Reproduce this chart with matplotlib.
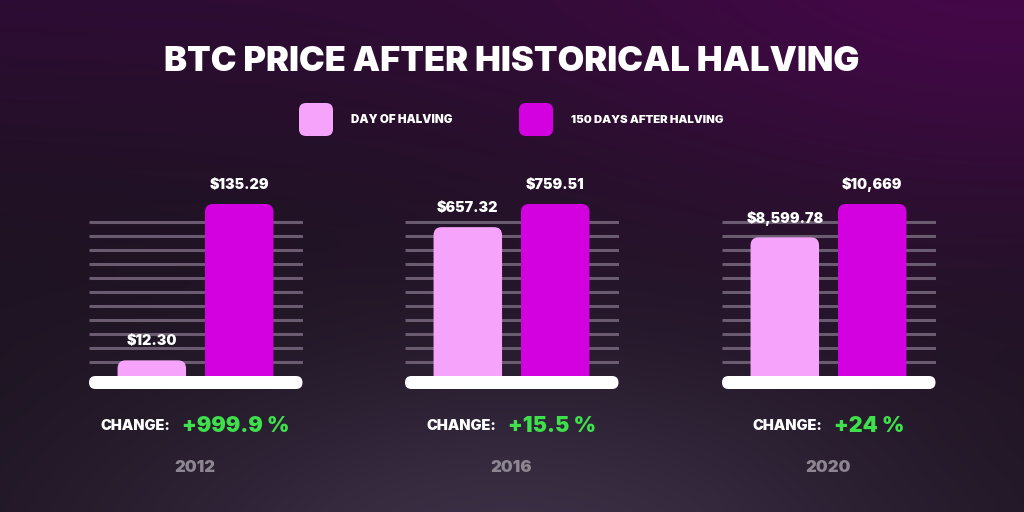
import numpy as np
import matplotlib
matplotlib.use("Agg")
import matplotlib.pyplot as plt
from matplotlib.patches import FancyBboxPatch
from matplotlib.transforms import offset_copy

# ---------------- data ----------------
years = ["2012", "2016", "2020"]
series_names = ["DAY OF HALVING", "150 DAYS AFTER HALVING"]
day_of_halving = [12.30, 657.32, 8599.78]
after_150_days = [135.29, 759.51, 10669]
value_labels_day = ["$12.30", "$657.32", "$8,599.78"]
value_labels_after = ["$135.29", "$759.51", "$10,669"]
change_labels = ["+999.9 %", "+15.5 %", "+24 %"]
title = "BTC PRICE AFTER HISTORICAL HALVING"

# ---------------- style ----------------
PINK = "#f6a4fb"
MAGENTA = "#d300e0"
GREEN = "#3ee04c"
GRID = "#6b5b70"
YEARC = "#8d8591"
FONT = "Inter"

W, H = 1024, 512
fig = plt.figure(figsize=(W / 100, H / 100), dpi=100)

# background axes in pixel coordinates
bg = fig.add_axes([0, 0, 1, 1], zorder=0)
bg.set_xlim(0, W)
bg.set_ylim(H, 0)
bg.axis("off")

yy, xx = np.mgrid[0:H, 0:W]
def glow(cx, cy, rx, ry):
    return np.exp(-(((xx - cx) / rx) ** 2 + ((yy - cy) / ry) ** 2))
base = np.array([0x1c, 0x13, 0x20], float)
img = np.ones((H, W, 3)) * base
img += glow(1024, -40, 520, 260)[..., None] * (np.array([0x44, 0x08, 0x48]) - base)
img += glow(0, -60, 600, 210)[..., None] * (np.array([0x2e, 0x0c, 0x34]) - base)
img += glow(512, 560, 420, 200)[..., None] * (np.array([0x3c, 0x30, 0x46]) - base)
img = np.clip(img, 0, 255) / 255.0
bg.imshow(img, extent=(0, W, H, 0), aspect="auto", zorder=0)

renderer = fig.canvas.get_renderer()

def fit_text(ax, x, y, s, target_w, color, ha="center", va="center", weight="black", size=20, **kw):
    t = ax.text(x, y, s, color=color, ha=ha, va=va, fontfamily=FONT, fontweight=weight,
                fontsize=size, **kw)
    w = t.get_window_extent(renderer).width
    t.set_fontsize(size * target_w / w)
    return t

# title
fit_text(bg, 511.5, 62, title, 697, "white", size=28)

# legend
for (lx, tx, col, name, tw) in [(299, 351, PINK, series_names[0], 102),
                                (519, 571, MAGENTA, series_names[1], 154)]:
    bg.add_patch(FancyBboxPatch((lx, 103), 34, 33, boxstyle="round,pad=0,rounding_size=7",
                                fc=col, ec="none", zorder=2))
    fit_text(bg, tx, 120, name, tw, "white", ha="left", size=9)

# ---------------- panels ----------------
panel_left = [89, 405, 722]
pw = 213.5
ax_top, ax_bot = 170, 376      # y = 0 sits on top edge of the white baseline
ah = ax_bot - ax_top
unit_px = 87.4          # px between bar centres
pink_off = 62.8         # px from panel left to first bar centre
bar_w = 68.5 / unit_px
top_target_px = ax_bot - 204  # pixel height of tallest bar

grid_px = np.arange(222, 363, 14)

for i in range(3):
    ax = fig.add_axes([panel_left[i] / W, 1 - ax_bot / H, pw / W, ah / H], zorder=2)
    ax.axis("off")
    ax.patch.set_alpha(0)
    vals = [day_of_halving[i], after_150_days[i]]
    ymax = max(vals) * ah / top_target_px
    ax.set_ylim(0, ymax)
    ax.set_xlim(-pink_off / unit_px, (pw - pink_off) / unit_px)
    ypp = ymax / ah  # data units per pixel

    # grid lines
    for gp in grid_px:
        f = (ax_bot - gp) / ah
        ax.plot([0, 1], [f, f], transform=ax.transAxes, color=GRID, lw=2.2,
                solid_capstyle="butt", zorder=1)

    bars = ax.bar([0, 1], vals, width=bar_w, color=[PINK, MAGENTA], zorder=2)
    aspect = ypp * unit_px
    r = 8 / unit_px
    ext = 12 * ypp  # hide rounded bottom behind the baseline
    for b in bars:
        b.set_visible(False)
        ax.add_patch(FancyBboxPatch((b.get_x(), b.get_y() - ext), b.get_width(),
                                    b.get_height() + ext,
                                    boxstyle=f"round,pad=0,rounding_size={r}",
                                    mutation_aspect=aspect, fc=b.get_facecolor(),
                                    ec="none", zorder=2, clip_on=False))
    # value labels
    for xpos, v, lab in zip([0, 1], vals, [value_labels_day[i], value_labels_after[i]]):
        t = ax.text(xpos, v, lab, ha="center", va="center", color="white",
                    fontfamily=FONT, fontweight="black", fontsize=10.3, zorder=4,
                    transform=offset_copy(ax.transData, fig=fig, x=0, y=19 * 0.72,
                                          units="points"))

    # baseline (white rounded bar)
    ax.add_patch(FancyBboxPatch((0, -13 / ah), 1, 13 / ah, transform=ax.transAxes,
                                boxstyle=f"round,pad=0,rounding_size={6.5 / pw}",
                                mutation_aspect=pw / ah, fc="white", ec="none",
                                zorder=5, clip_on=False))

    cx = panel_left[i] + pw / 2 - 0.5
    # change group
    t1 = bg.text(0, 426, "CHANGE:", color="white", ha="left", va="center",
                 fontfamily=FONT, fontweight="black", fontsize=10.5)
    t2 = bg.text(0, 426, change_labels[i], color=GREEN, ha="left", va="center",
                 fontfamily=FONT, fontweight="black", fontsize=15.5)
    w1 = t1.get_window_extent(renderer).width
    w2 = t2.get_window_extent(renderer).width
    gap = 12
    x0 = cx - (w1 + gap + w2) / 2
    t1.set_x(x0)
    t2.set_x(x0 + w1 + gap)
    # year
    bg.text(cx, 467, years[i], color=YEARC, ha="center", va="center",
            fontfamily=FONT, fontweight="black", fontsize=12)

fig.savefig("out.png", dpi=100, facecolor="#1c1320")
